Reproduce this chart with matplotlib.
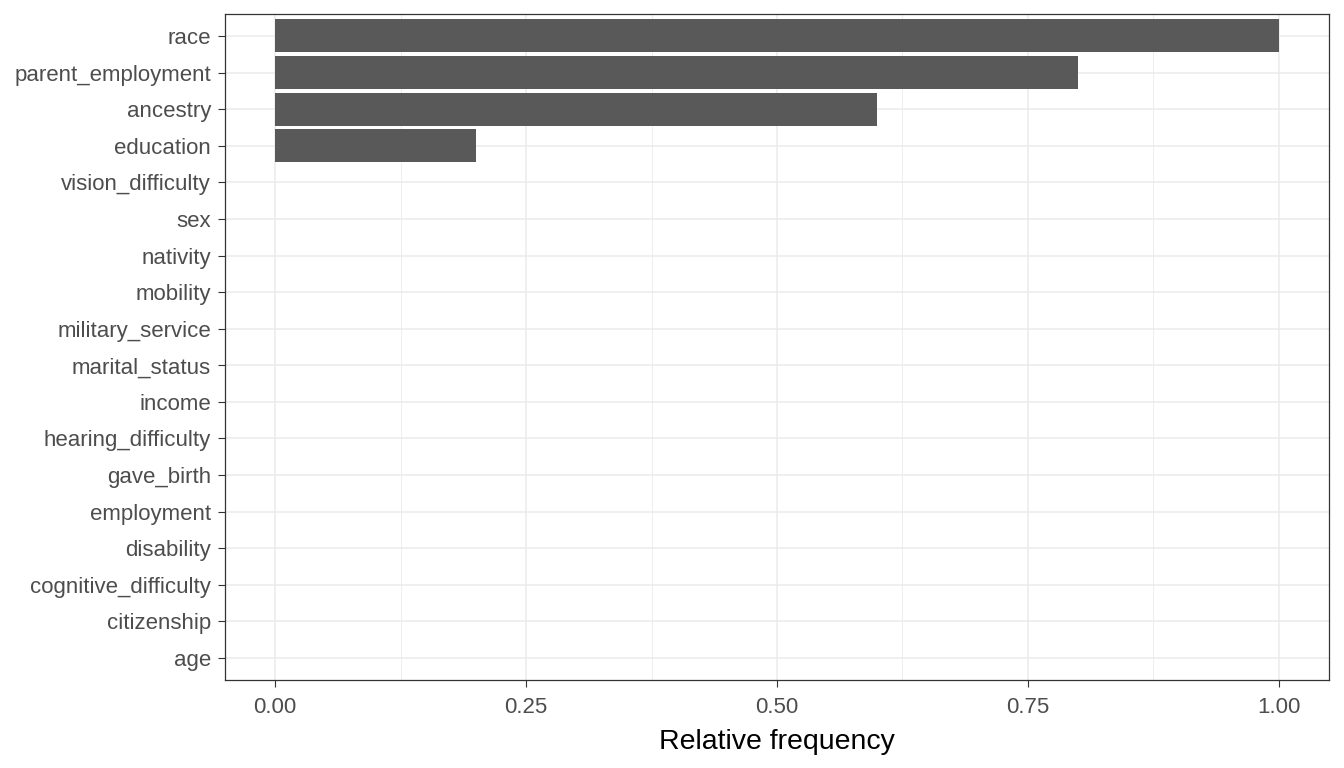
import matplotlib.pyplot as plt
from matplotlib.ticker import MultipleLocator

plt.rcParams['font.family'] = ['Liberation Sans', 'DejaVu Sans']

# variables, bottom to top
variables = ["age", "citizenship", "cognitive_difficulty", "disability", "employment",
             "gave_birth", "hearing_difficulty", "income", "marital_status",
             "military_service", "mobility", "nativity", "sex", "vision_difficulty",
             "education", "ancestry", "parent_employment", "race"]
rel_freq = [0, 0, 0, 0, 0, 0, 0, 0, 0, 0, 0, 0, 0, 0, 0.2, 0.6, 0.8, 1.0]
x_ticks = [0.0, 0.25, 0.5, 0.75, 1.0]
x_labels = ["0.00", "0.25", "0.50", "0.75", "1.00"]

fig = plt.figure(figsize=(13.44, 7.68), dpi=100)
ax = fig.add_axes([225 / 1344, 1 - 680 / 768, (1329 - 225) / 1344, (680 - 14) / 768])

pos = range(len(variables))
ax.barh(pos, rel_freq, height=0.9, color="#595959", zorder=3)

ax.set_xlim(-0.05, 1.05)
ax.set_ylim(-0.6, len(variables) - 1 + 0.6)
ax.set_xticks(x_ticks)
ax.set_xticklabels(x_labels)
ax.xaxis.set_minor_locator(MultipleLocator(0.125))
ax.set_yticks(list(pos))
ax.set_yticklabels(variables)

ax.grid(which="major", color="#EBEBEB", linewidth=1.1, zorder=0)
ax.grid(which="minor", axis="x", color="#EBEBEB", linewidth=0.6, zorder=0)
ax.set_axisbelow(True)

ax.tick_params(axis="both", which="major", labelsize=16, labelcolor="#4D4D4D",
               color="#333333", length=5, width=0.8, pad=5)
ax.tick_params(axis="x", which="major", pad=7)
ax.tick_params(axis="both", which="minor", length=0)
for s in ax.spines.values():
    s.set_color("#333333")
    s.set_linewidth(0.9)

ax.set_xlabel("Relative frequency", fontsize=20.5, color="black", labelpad=8)

fig.savefig("out.png", dpi=100)
